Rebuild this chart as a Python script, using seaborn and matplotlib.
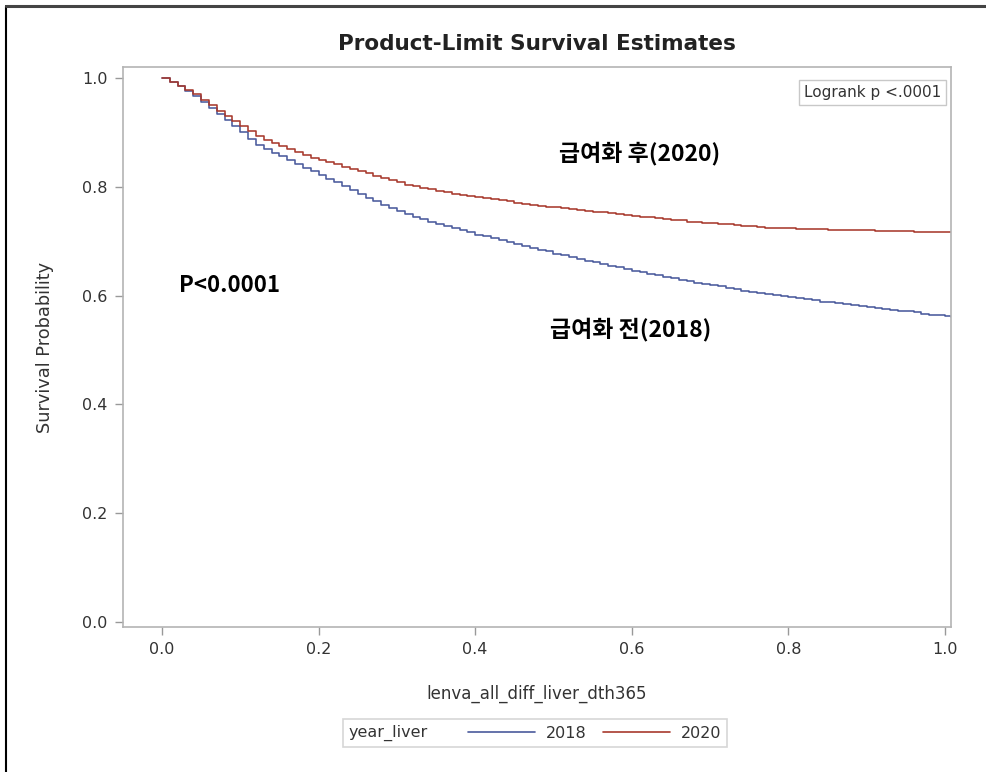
import numpy as np
import pandas as pd
import matplotlib
matplotlib.use("Agg")
import matplotlib.pyplot as plt
import seaborn as sns
from matplotlib.lines import Line2D

# ---------------- data ----------------
time_points = [0.00, 0.01, 0.02, 0.03, 0.04, 0.05, 0.06, 0.07, 0.08, 0.09,
               0.10, 0.11, 0.12, 0.13, 0.14, 0.15, 0.16, 0.17, 0.18, 0.19,
               0.20, 0.21, 0.22, 0.23, 0.24, 0.25, 0.26, 0.27, 0.28, 0.29,
               0.30, 0.31, 0.32, 0.33, 0.34, 0.35, 0.36, 0.37, 0.38, 0.39,
               0.40, 0.41, 0.42, 0.43, 0.44, 0.45, 0.46, 0.47, 0.48, 0.49,
               0.50, 0.51, 0.52, 0.53, 0.54, 0.55, 0.56, 0.57, 0.58, 0.59,
               0.60, 0.61, 0.62, 0.63, 0.64, 0.65, 0.66, 0.67, 0.68, 0.69,
               0.70, 0.71, 0.72, 0.73, 0.74, 0.75, 0.76, 0.77, 0.78, 0.79,
               0.80, 0.81, 0.82, 0.83, 0.84, 0.85, 0.86, 0.87, 0.88, 0.89,
               0.90, 0.91, 0.92, 0.93, 0.94, 0.95, 0.96, 0.97, 0.98, 0.99,
               1.00, 1.008]

surv_2018 = [1.000, 0.993, 0.985, 0.976, 0.966, 0.956, 0.945, 0.934, 0.922, 0.911,
             0.900, 0.888, 0.877, 0.869, 0.862, 0.856, 0.849, 0.842, 0.835, 0.828,
             0.822, 0.815, 0.808, 0.801, 0.794, 0.787, 0.780, 0.774, 0.767, 0.761,
             0.755, 0.750, 0.745, 0.740, 0.736, 0.732, 0.728, 0.724, 0.720, 0.716,
             0.712, 0.709, 0.705, 0.702, 0.698, 0.695, 0.691, 0.688, 0.684, 0.681,
             0.677, 0.674, 0.670, 0.667, 0.664, 0.661, 0.658, 0.655, 0.652, 0.649,
             0.646, 0.643, 0.640, 0.637, 0.634, 0.632, 0.629, 0.627, 0.624, 0.622,
             0.619, 0.617, 0.614, 0.612, 0.609, 0.607, 0.605, 0.603, 0.601, 0.599,
             0.597, 0.595, 0.593, 0.591, 0.589, 0.588, 0.586, 0.585, 0.583, 0.581,
             0.579, 0.578, 0.576, 0.574, 0.572, 0.571, 0.569, 0.567, 0.565, 0.564,
             0.562, 0.561]

surv_2020 = [1.000, 0.993, 0.986, 0.978, 0.970, 0.960, 0.950, 0.940, 0.930, 0.920,
             0.911, 0.902, 0.893, 0.886, 0.880, 0.874, 0.869, 0.863, 0.858, 0.853,
             0.849, 0.845, 0.841, 0.837, 0.833, 0.829, 0.825, 0.820, 0.816, 0.812,
             0.808, 0.804, 0.801, 0.798, 0.795, 0.792, 0.790, 0.787, 0.785, 0.783,
             0.781, 0.779, 0.777, 0.775, 0.773, 0.771, 0.769, 0.767, 0.765, 0.763,
             0.762, 0.760, 0.759, 0.757, 0.756, 0.754, 0.753, 0.751, 0.750, 0.748,
             0.747, 0.745, 0.744, 0.742, 0.741, 0.739, 0.738, 0.736, 0.735, 0.734,
             0.733, 0.732, 0.731, 0.729, 0.728, 0.727, 0.726, 0.725, 0.725, 0.724,
             0.724, 0.723, 0.723, 0.722, 0.722, 0.721, 0.721, 0.720, 0.720, 0.720,
             0.720, 0.719, 0.719, 0.718, 0.718, 0.718, 0.717, 0.717, 0.717, 0.716,
             0.716, 0.716]

groups = ["2018", "2020"]
group_colors = ["#4a5a9c", "#a8392d"]
x_ticks = [0.0, 0.2, 0.4, 0.6, 0.8, 1.0]
y_ticks = [0.0, 0.2, 0.4, 0.6, 0.8, 1.0]

title_text = "Product-Limit Survival Estimates"
x_label = "lenva_all_diff_liver_dth365"
y_label = "Survival Probability"
legend_title = "year_liver"
logrank_text = "Logrank p <.0001"
annot_after = "급여화 후(2020)"
annot_before = "급여화 전(2018)"
annot_p = "P<0.0001"

# ---------------- build long table ----------------
df = pd.DataFrame({
    "time": time_points * 2,
    "surv": surv_2018 + surv_2020,
    "year_liver": [groups[0]] * len(time_points) + [groups[1]] * len(time_points),
})

sns.set_theme(style="white")
plt.rcParams["font.family"] = ["DejaVu Sans"]

fig = plt.figure(figsize=(9.86, 7.72), dpi=100)
ax = fig.add_axes([123 / 986, 1 - 627 / 772, (951 - 123) / 986, (627 - 67) / 772])

palette = dict(zip(groups, group_colors))
sns.lineplot(data=df, x="time", y="surv", hue="year_liver", palette=palette,
             estimator=None, sort=True, drawstyle="steps-post", linewidth=1.15,
             ax=ax, legend=False)

ax.set_xlim(-0.0498, 1.0077)
ax.set_ylim(-0.009, 1.02)
ax.set_xticks(x_ticks)
ax.set_yticks(y_ticks)
ax.set_xticklabels([f"{v:.1f}" for v in x_ticks])
ax.set_yticklabels([f"{v:.1f}" for v in y_ticks])

grey = "#b4b4b4"
txt = "#333333"
for sp in ax.spines.values():
    sp.set_color(grey)
    sp.set_linewidth(1.2)
ax.tick_params(axis="both", which="major", direction="out", length=6, width=1.0,
               color="#999999", labelcolor=txt, labelsize=11.5, pad=5,
               bottom=True, left=True)

ax.set_xlabel(x_label, fontsize=12, color=txt, labelpad=20)
ax.set_ylabel(y_label, fontsize=12.8, color=txt, labelpad=20)

fig.text(537 / 986, 1 - 44 / 772, title_text, ha="center", va="center",
         fontsize=15.5, fontweight="bold", color="#222222")

# Logrank box
ax.text(0.988, 0.968, logrank_text, transform=ax.transAxes, ha="right", va="top",
        fontsize=11, color=txt,
        bbox=dict(boxstyle="square,pad=0.3", facecolor="white", edgecolor="#c8c8c8", linewidth=1.0))

# annotations
kfont = ["Noto Sans CJK KR", "DejaVu Sans"]
ax.text(0.610, 0.862, annot_after, ha="center", va="center", fontsize=16.5,
        fontweight="bold", family=kfont, color="black")
ax.text(0.598, 0.537, annot_before, ha="center", va="center", fontsize=16.5,
        fontweight="bold", family=kfont, color="black")
ax.text(0.0856, 0.619, annot_p, ha="center", va="center", fontsize=16,
        fontweight="bold", family=kfont, color="black")

# legend below plot
handles = [Line2D([], [], color=c, linewidth=1.2) for c in group_colors]
leg = fig.legend(handles, groups, title=legend_title, ncol=2,
                 loc="center", bbox_to_anchor=(535 / 986, 1 - 733 / 772),
                 frameon=True, fancybox=False, fontsize=11.5, title_fontsize=11.5,
                 handlelength=4.2, handletextpad=0.7, columnspacing=1.0,
                 borderpad=0.35, edgecolor="#cccccc")
leg.get_frame().set_linewidth(1.2)
for t in leg.get_texts():
    t.set_color(txt)
leg.get_title().set_color(txt)
try:
    from matplotlib.offsetbox import HPacker
    fs = 11.5
    title_box = leg._legend_title_box
    handle_box = leg._legend_handle_box
    new_box = HPacker(pad=leg.borderpad * fs, sep=2.5 * fs, align="center",
                      children=[title_box, handle_box])
    new_box.set_figure(fig)
    leg._legend_box = new_box
    leg._legend_box.set_offset(leg._findoffset)
except Exception:
    pass

# outer border lines (left and top)
fig.add_artist(Line2D([6 / 986, 6 / 986], [0, 1 - 6 / 772], transform=fig.transFigure,
                      color="black", linewidth=1.5))
fig.add_artist(Line2D([6 / 986, 1], [1 - 6 / 772, 1 - 6 / 772], transform=fig.transFigure,
                      color="#444444", linewidth=2.2))

fig.savefig("out.png", dpi=100, facecolor="white")
